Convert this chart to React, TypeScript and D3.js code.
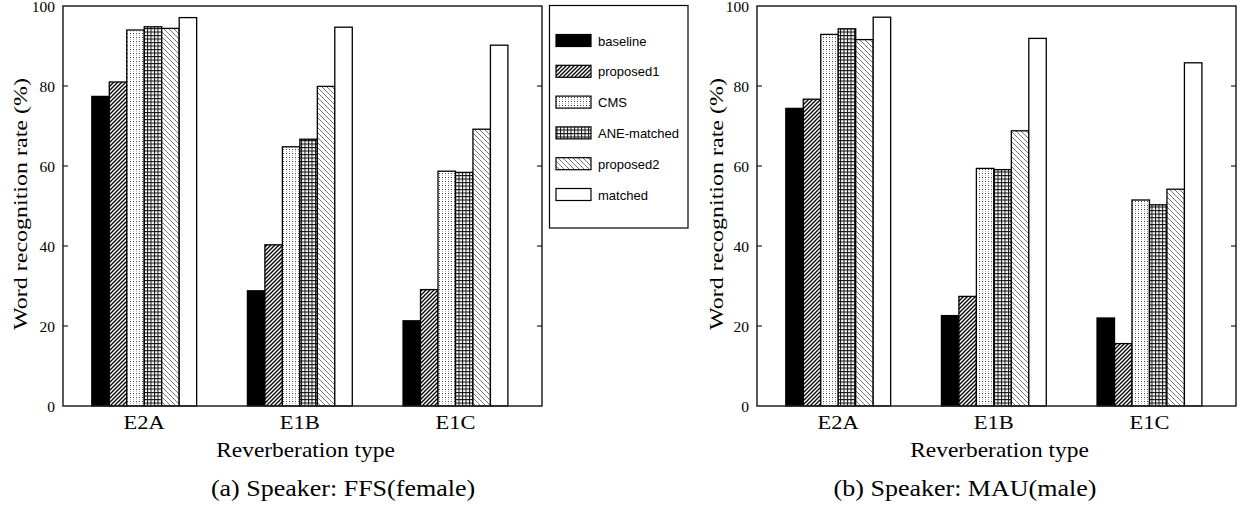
import * as d3 from 'd3';

const categories = ['E2A', 'E1B', 'E1C'];
const seriesNames = ['baseline', 'proposed1', 'CMS', 'ANE-matched', 'proposed2', 'matched'];
const yTicks = [0, 20, 40, 60, 80, 100];

// rows = reverberation type, columns = series
const ffsValues = [
  [77.4, 81.0, 94.0, 94.8, 94.4, 97.1],
  [28.8, 40.3, 64.8, 66.7, 79.9, 94.7],
  [21.3, 29.1, 58.7, 58.4, 69.2, 90.2],
];
const mauValues = [
  [74.4, 76.7, 92.9, 94.3, 91.6, 97.2],
  [22.6, 27.4, 59.4, 59.1, 68.8, 91.9],
  [22.0, 15.6, 51.5, 50.3, 54.2, 85.8],
];

const fills = ['#000', 'url(#pHatch)', 'url(#pDots)', 'url(#pGrid)', 'url(#pBack)', '#fff'];
const serif = '"Liberation Serif", "Times New Roman", serif';
const sans = '"Liberation Sans", Arial, sans-serif';

const Patterns = () => (
  <defs>
    <pattern id="pHatch" patternUnits="userSpaceOnUse" width="4" height="4">
      <rect width="4" height="4" fill="#fff" />
      <path d="M-1,1 l2,-2 M0,4 l4,-4 M3,5 l2,-2" stroke="#000" strokeWidth="1.3" />
    </pattern>
    <pattern id="pDots" patternUnits="userSpaceOnUse" width="3" height="4">
      <rect width="3" height="4" fill="#fff" />
      <rect x="1" y="1" width="1" height="1" fill="#444" />
      <rect x="1" y="3" width="1" height="1" fill="#bbb" />
    </pattern>
    <pattern id="pGrid" patternUnits="userSpaceOnUse" width="3.5" height="3.5">
      <rect width="3.5" height="3.5" fill="#fff" />
      <path d="M0.5,0 V3.5 M0,0.5 H3.5" stroke="#111" strokeWidth="1" />
    </pattern>
    <pattern id="pBack" patternUnits="userSpaceOnUse" width="5" height="5">
      <rect width="5" height="5" fill="#fff" />
      <path d="M0,0 l5,5 M-1,4 l2,2 M4,-1 l2,2" stroke="#777" strokeWidth="1" />
    </pattern>
  </defs>
);

type PanelProps = {
  x0: number;
  values: number[][];
  yLabelX: number;
  caption: string;
  captionX: number;
};

const Panel = ({ x0, values, yLabelX, caption, captionX }: PanelProps) => {
  const plotW = 479;
  const x = d3.scaleLinear().domain([-0.522, 2.556]).range([x0, x0 + plotW]);
  const y = d3.scaleLinear().domain([0, 100]).range([406, 6]);
  const bw = 0.1123;
  const barPx = x(bw) - x(0);

  return (
    <g>
      {/* bars */}
      {values.map((row, i) =>
        row.map((v, k) => (
          <rect
            key={`${i}-${k}`}
            x={x(i + (k - 3) * bw)}
            y={y(v)}
            width={barPx}
            height={y(0) - y(v)}
            fill={fills[k]}
            stroke="#000"
            strokeWidth={1.3}
          />
        ))
      )}

      {/* frame */}
      <rect x={x0} y={y(100)} width={plotW} height={y(0) - y(100)} fill="none" stroke="#222" strokeWidth={1.5} />

      {/* y ticks, mirrored on the right */}
      {yTicks.map(t => (
        <g key={t}>
          {t > 0 && t < 100 && (
            <>
              <line x1={x0} x2={x0 + 5} y1={y(t)} y2={y(t)} stroke="#222" strokeWidth={1.2} />
              <line x1={x0 + plotW} x2={x0 + plotW - 5} y1={y(t)} y2={y(t)} stroke="#222" strokeWidth={1.2} />
            </>
          )}
          <text x={x0 - 8} y={y(t) + 6.2} textAnchor="end" fontFamily={serif} fontSize={15.5}>
            {t}
          </text>
        </g>
      ))}

      {/* category labels */}
      {categories.map((c, i) => (
        <text
          key={c}
          transform={`translate(${x(i)},429) scale(1,0.88)`}
          textAnchor="middle"
          fontFamily={serif}
          fontSize={22.5}
        >
          {c}
        </text>
      ))}

      <text
        transform={`translate(${x0 + plotW / 2 + 3},456.5) scale(1,0.86)`}
        textAnchor="middle"
        fontFamily={serif}
        fontSize={23.4}
      >
        Reverberation type
      </text>

      <text
        transform={`translate(${yLabelX},204) rotate(-90) scale(1,0.82)`}
        textAnchor="middle"
        fontFamily={serif}
        fontSize={24}
      >
        Word recognition rate (%)
      </text>

      <text
        transform={`translate(${captionX},496) scale(1,0.89)`}
        textAnchor="middle"
        fontFamily={serif}
        fontSize={26}
      >
        {caption}
      </text>
    </g>
  );
};

const Legend = () => {
  const rowY = d3.scaleLinear().domain([0, 5]).range([40.5, 194.5]);
  return (
    <g>
      <rect x={549.5} y={5.5} width={138.5} height={222.5} fill="#fff" stroke="#000" strokeWidth={1.2} />
      {seriesNames.map((s, k) => (
        <g key={s}>
          <rect x={556} y={rowY(k) - 6} width={35} height={12} fill={fills[k]} stroke="#000" strokeWidth={1.2} />
          <text x={598} y={rowY(k) + 5} fontFamily={sans} fontSize={13}>
            {s}
          </text>
        </g>
      ))}
    </g>
  );
};

export default function App() {
  return (
    <svg
      width={1241}
      height={506}
      style={{ position: 'absolute', left: 0, top: 0, background: '#fff' }}
    >
      <Patterns />
      <Panel x0={63} values={ffsValues} yLabelX={26.5} caption="(a) Speaker: FFS(female)" captionX={343} />
      <Panel x0={757} values={mauValues} yLabelX={722.5} caption="(b) Speaker: MAU(male)" captionX={965} />
      <Legend />
    </svg>
  );
}
